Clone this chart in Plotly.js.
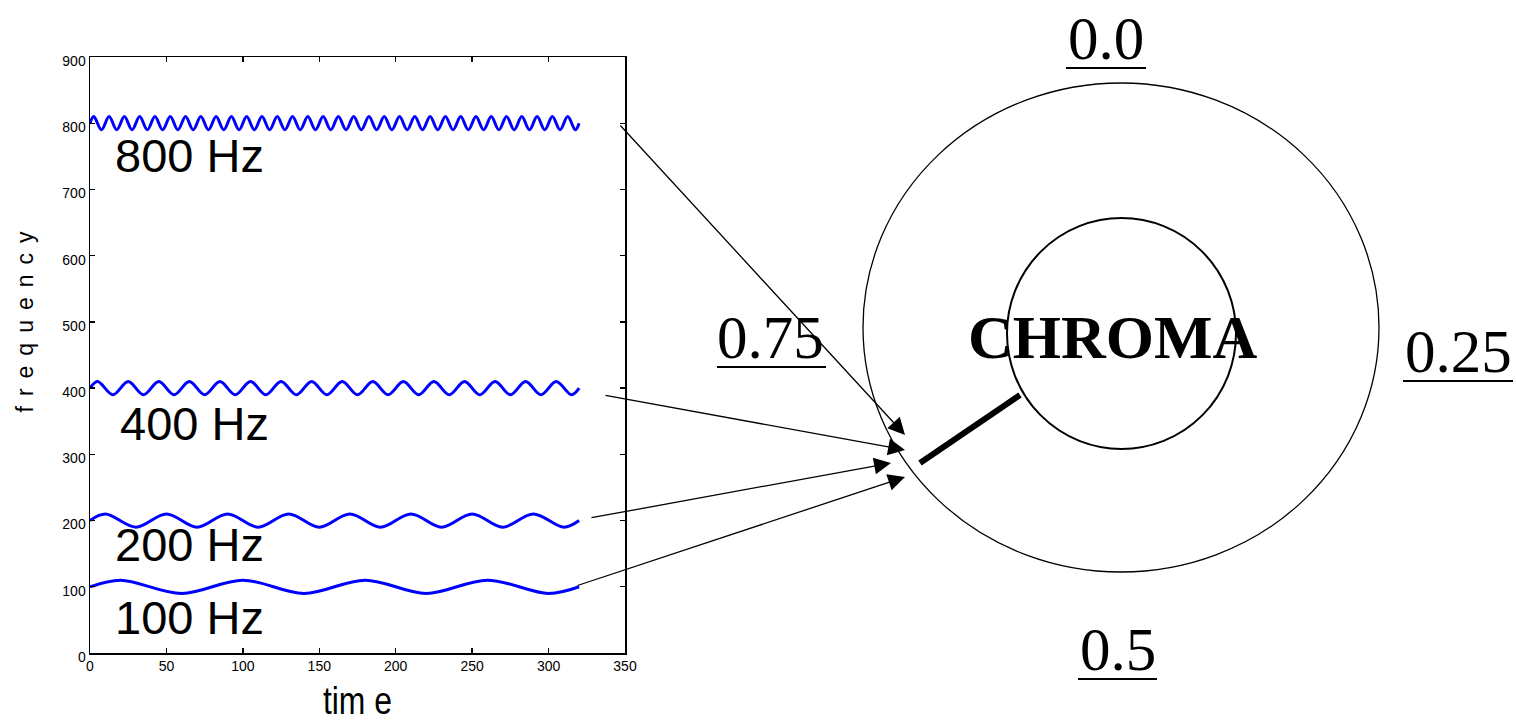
<!DOCTYPE html>
<html>
<head>
<meta charset="utf-8">
<script src="https://cdn.plot.ly/plotly-3.0.1.min.js"></script>
<style>
  html, body { margin: 0; padding: 0; background: #fff; }
  #chart { width: 1516px; height: 724px; }
  .ytitle { letter-spacing: 10px; }
  .g-ytitle { transform: translateY(-38px); }
  .g-xtitle { transform-box: fill-box; transform-origin: center; transform: scaleX(0.84); }
</style>
</head>
<body>
<div id="chart"></div>
<script>
// ---- Data (peaks / troughs of each vibrato curve) ----
const time800 = [0,2.5,7.5,12.5,17.5,22.5,27.5,32.5,37.5,42.5,47.5,52.5,57.5,62.5,67.5,72.5,77.5,82.5,87.5,92.5,97.5,102.5,107.5,112.5,117.5,122.5,127.5,132.5,137.5,142.5,147.5,152.5,157.5,162.5,167.5,172.5,177.5,182.5,187.5,192.5,197.5,202.5,207.5,212.5,217.5,222.5,227.5,232.5,237.5,242.5,247.5,252.5,257.5,262.5,267.5,272.5,277.5,282.5,287.5,292.5,297.5,302.5,307.5,312.5,317.5,320];
const freq800 = [800,810,790,810,790,810,790,810,790,810,790,810,790,810,790,810,790,810,790,810,790,810,790,810,790,810,790,810,790,810,790,810,790,810,790,810,790,810,790,810,790,810,790,810,790,810,790,810,790,810,790,810,790,810,790,810,790,810,790,810,790,810,790,810,790,800];

const time400 = [0,5,15,25,35,45,55,65,75,85,95,105,115,125,135,145,155,165,175,185,195,205,215,225,235,245,255,265,275,285,295,305,315,320];
const freq400 = [400,410,390,410,390,410,390,410,390,410,390,410,390,410,390,410,390,410,390,410,390,410,390,410,390,410,390,410,390,410,390,410,390,400];

const time200 = [0,10,30,50,70,90,110,130,150,170,190,210,230,250,270,290,310,320];
const freq200 = [200,210,190,210,190,210,190,210,190,210,190,210,190,210,190,210,190,200];

const time100 = [0,20,60,100,140,180,220,260,300,320];
const freq100 = [100,110,90,110,90,110,90,110,90,100];

const seriesLabels = ['800 Hz', '400 Hz', '200 Hz', '100 Hz'];
const chromaLabels = ['0.0', '0.25', '0.5', '0.75'];
const xTicks = [0, 50, 100, 150, 200, 250, 300, 350];
const yTicks = [0, 100, 200, 300, 400, 500, 600, 700, 800, 900];

// ---- Layout helpers (pixel -> paper, plot area is x 90..625, y 57..653) ----
const L = 90, R = 625, T = 57, B = 653;
const px = X => (X - L) / (R - L);
const py = Y => (B - Y) / (B - T);

const waveLine = { color: '#0000ff', width: 3, shape: 'spline', smoothing: 1 };
const traces = [
  { x: time800, y: freq800 },
  { x: time400, y: freq400 },
  { x: time200, y: freq200 },
  { x: time100, y: freq100 }
].map(s => ({ type: 'scatter', mode: 'lines', x: s.x, y: s.y, line: waveLine, hoverinfo: 'skip' }));

const sans = 'Liberation Sans, Arial, Helvetica, sans-serif';
const serif = 'Liberation Serif, Times New Roman, Times, serif';

const annotations = [];
// Series labels (data coordinates)
const labelPos = [[65.1, 752], [68.4, 347], [64.8, 164], [65.4, 54]];
seriesLabels.forEach((t, i) => annotations.push({
  xref: 'x', yref: 'y', x: labelPos[i][0], y: labelPos[i][1], text: t, showarrow: false,
  xanchor: 'center', yanchor: 'middle', font: { family: sans, size: 47, color: '#000' }
}));
// Chroma circle labels
const chromaPos = [[1106, 38.4], [1458, 351.4], [1117.5, 649.4], [770.5, 337.4]];
chromaLabels.forEach((t, i) => annotations.push({
  xref: 'paper', yref: 'paper', x: px(chromaPos[i][0]), y: py(chromaPos[i][1]), text: t, showarrow: false,
  xanchor: 'center', yanchor: 'middle', font: { family: serif, size: 61, color: '#000' }
}));
annotations.push({
  xref: 'paper', yref: 'paper', x: px(1112.5), y: py(337), text: '<b>CHROMA</b>', showarrow: false,
  xanchor: 'center', yanchor: 'middle', font: { family: serif, size: 62, color: '#000' }
});
// Arrows from each curve end to the chroma circle
const arrows = [
  { head: [905, 435], tail: [619, 124] },
  { head: [905, 450], tail: [604, 395] },
  { head: [891, 463], tail: [590, 518] },
  { head: [905, 477], tail: [576, 586] }
];
arrows.forEach(a => annotations.push({
  xref: 'paper', yref: 'paper', x: px(a.head[0]), y: py(a.head[1]),
  axref: 'pixel', ayref: 'pixel', ax: a.tail[0] - a.head[0], ay: a.tail[1] - a.head[1],
  text: '', showarrow: true, arrowhead: 2, arrowsize: 2.6, arrowwidth: 1.3, arrowcolor: '#000'
}));

const shapes = [
  { type: 'circle', xref: 'paper', yref: 'paper', x0: px(863), x1: px(1379), y0: py(83), y1: py(572), line: { color: '#000', width: 1.3 } },
  { type: 'circle', xref: 'paper', yref: 'paper', x0: px(1007), x1: px(1236), y0: py(218), y1: py(449), line: { color: '#000', width: 2 } },
  { type: 'line', xref: 'paper', yref: 'paper', x0: px(920), y0: py(463), x1: px(1020), y1: py(395), line: { color: '#000', width: 6 } }
];
const underlines = [[1066, 1146, 68], [1403, 1513, 381], [1078, 1157, 679], [717, 826, 367]];
underlines.forEach(u => shapes.push({
  type: 'line', xref: 'paper', yref: 'paper', x0: px(u[0]), x1: px(u[1]), y0: py(u[2]), y1: py(u[2]),
  line: { color: '#000', width: 2.2 }
}));

const axisCommon = {
  showgrid: false, zeroline: false, showline: true, linecolor: '#000', linewidth: 1.5,
  mirror: 'ticks', ticks: 'inside', ticklen: 5, tickwidth: 1.3, tickcolor: '#000',
  tickfont: { family: sans, size: 14, color: '#000' }, fixedrange: true
};

const layout = {
  width: 1516, height: 724,
  margin: { l: L, r: 1516 - R, t: T, b: 724 - B, pad: 0 },
  paper_bgcolor: '#fff', plot_bgcolor: '#fff',
  showlegend: false,
  font: { family: sans, color: '#000' },
  xaxis: Object.assign({}, axisCommon, {
    range: [0, 350], tickvals: xTicks, ticktext: xTicks.map(String),
    title: { text: 'tim e', standoff: 14, font: { family: sans, size: 38, color: '#000' } }
  }),
  yaxis: Object.assign({}, axisCommon, {
    range: [0, 900], tickvals: yTicks, ticktext: yTicks.map(String), ticklabelshift: 4,
    title: { text: 'frequency', standoff: 22, font: { family: sans, size: 23, color: '#000' } }
  }),
  shapes: shapes,
  annotations: annotations
};

Plotly.newPlot('chart', traces, layout, { staticPlot: true, displayModeBar: false });
</script>
</body>
</html>
